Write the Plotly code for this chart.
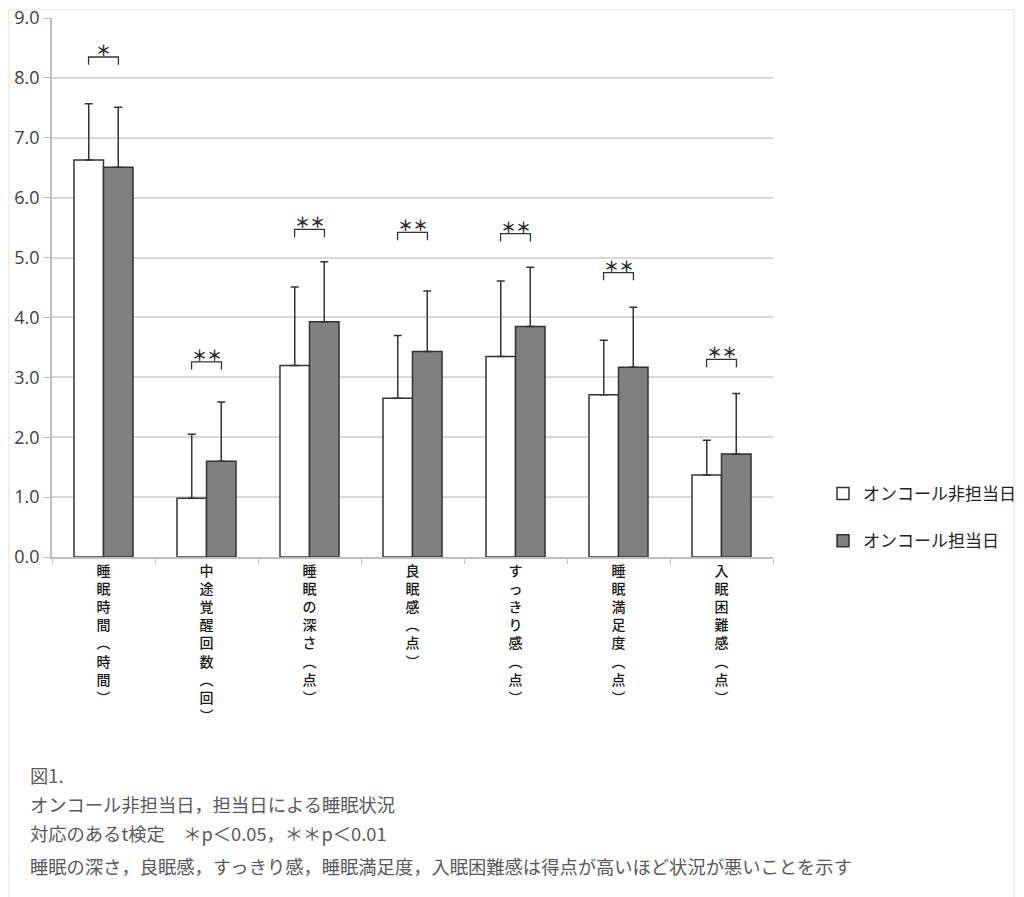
import plotly.graph_objects as go

# ---------------- data ----------------
categories = ["睡眠時間（時間）", "中途覚醒回数（回）", "睡眠の深さ（点）", "良眠感（点）",
              "すっきり感（点）", "睡眠満足度（点）", "入眠困難感（点）"]
label_main = ["睡眠時間", "中途覚醒回数", "睡眠の深さ", "良眠感", "すっきり感", "睡眠満足度", "入眠困難感"]
label_unit = ["時間", "回", "点", "点", "点", "点", "点"]

series_names = ["オンコール非担当日", "オンコール担当日"]
off_call_mean = [6.63, 0.98, 3.20, 2.65, 3.35, 2.71, 1.37]
off_call_sd = [0.94, 1.07, 1.31, 1.05, 1.26, 0.91, 0.58]
on_call_mean = [6.51, 1.60, 3.93, 3.43, 3.85, 3.17, 1.72]
on_call_sd = [1.00, 0.99, 1.00, 1.01, 0.99, 1.00, 1.01]

sig_marks = ["＊", "＊＊", "＊＊", "＊＊", "＊＊", "＊＊", "＊＊"]
sig_heights = [8.35, 3.26, 5.47, 5.42, 5.40, 4.75, 3.30]

y_ticks = [0, 1, 2, 3, 4, 5, 6, 7, 8, 9]
y_tick_labels = ["0.0", "1.0", "2.0", "3.0", "4.0", "5.0", "6.0", "7.0", "8.0", "9.0"]

caption_lines = [
    "図1.",
    "オンコール非担当日，担当日による睡眠状況",
    "対応のあるt検定　＊p＜0.05，＊＊p＜0.01",
    "睡眠の深さ，良眠感，すっきり感，睡眠満足度，入眠困難感は得点が高いほど状況が悪いことを示す",
]

# ---------------- layout helpers ----------------
OFF = 8  # page body margin
W, H = 1024 - 2 * OFF, 897 - OFF
PLOT_LEFT, PLOT_RIGHT, PLOT_TOP, PLOT_BOTTOM = 52, 773, 18, 557  # reference pixels
L = PLOT_LEFT - OFF
T = PLOT_TOP - OFF
R = W - (PLOT_RIGHT - OFF)
B = H - (PLOT_BOTTOM - OFF)
PW, PH = PLOT_RIGHT - PLOT_LEFT, PLOT_BOTTOM - PLOT_TOP


def px_x(px):
    return (px - PLOT_LEFT) / PW


def px_y(py):
    return (PLOT_BOTTOM - py) / PH


CJK = "Noto Sans CJK JP"
EDGE = "#333333"

tick_text = []
for m, u in zip(label_main, label_unit):
    chars = list(m) + ["︵"] + list(u) + ["︶"]
    tick_text.append("<br>".join(chars))

fig = go.Figure()
fig.add_trace(go.Bar(
    name=series_names[0], x=categories, y=off_call_mean,
    marker=dict(color="#ffffff", line=dict(color=EDGE, width=1.5)),
    error_y=dict(type="data", symmetric=False, array=off_call_sd,
                 arrayminus=[0] * len(off_call_sd), color=EDGE, thickness=1.5, width=4),
    legendgroup="a",
))
fig.add_trace(go.Bar(
    name=series_names[1], x=categories, y=on_call_mean,
    marker=dict(color="#808080", line=dict(color=EDGE, width=1.5)),
    error_y=dict(type="data", symmetric=False, array=on_call_sd,
                 arrayminus=[0] * len(on_call_sd), color=EDGE, thickness=1.5, width=4),
    legendgroup="b",
))

# significance brackets
half = 0.145
tick_h = 0.13
for i, (mark, h) in enumerate(zip(sig_marks, sig_heights)):
    x0, x1 = i - half, i + half
    fig.add_shape(type="path", xref="x", yref="y",
                  path=f"M {x0},{h - tick_h} L {x0},{h} L {x1},{h} L {x1},{h - tick_h}",
                  line=dict(color=EDGE, width=1.3))
    fig.add_annotation(x=i, y=h, xref="x", yref="y", text=mark, showarrow=False,
                       yanchor="bottom", yshift=-5,
                       font=dict(family=CJK, size=15, color="#2a2a2a", weight="bold"))

# captions
caption_y = [775, 804, 833, 866]
for line, py in zip(caption_lines, caption_y):
    fig.add_annotation(x=px_x(28), y=px_y(py), xref="paper", yref="paper",
                       text=line, showarrow=False, xanchor="left", yanchor="middle",
                       font=dict(family=CJK, size=18.3, color="#595959"))

# faint frame
fig.add_shape(type="rect", xref="paper", yref="paper",
              x0=px_x(9), x1=px_x(1014), y0=px_y(905), y1=px_y(10),
              line=dict(color="#ececec", width=1.5), layer="below")

fig.update_layout(
    width=W, height=H,
    margin=dict(l=L, r=R, t=T, b=B, autoexpand=False),
    paper_bgcolor="white", plot_bgcolor="white",
    barmode="group", bargap=0.427, bargroupgap=0,
    showlegend=True,
    legend=dict(x=px_x(823), y=px_y(476), xanchor="left", yanchor="top",
                traceorder="grouped", tracegroupgap=22,
                font=dict(family=CJK, size=17, color="#222222"),
                bgcolor="rgba(0,0,0,0)"),
    xaxis=dict(
        type="category", tickmode="array", tickvals=categories, ticktext=tick_text,
        tickson="boundaries", ticks="outside", ticklen=5, tickcolor="#bfbfbf",
        showline=True, linecolor="#bfbfbf", linewidth=1.5,
        tickfont=dict(family=CJK, size=14, color="#1a1a1a", weight=500),
        showgrid=False, range=[-0.5, len(categories) - 0.5],
    ),
    yaxis=dict(
        range=[0, 9.001], tickmode="array", tickvals=y_ticks, ticktext=y_tick_labels,
        ticks="outside", ticklen=7, tickcolor="#bfbfbf",
        showline=True, linecolor="#bfbfbf", linewidth=1.5,
        showgrid=True, gridcolor="#d9d9d9", gridwidth=1.5,
        zeroline=False, ticklabelstandoff=0, ticklabeloverflow="allow",
        tickfont=dict(family="Open Sans", size=18, color="#404040"),
    ),
)

fig.write_html("out.html")
